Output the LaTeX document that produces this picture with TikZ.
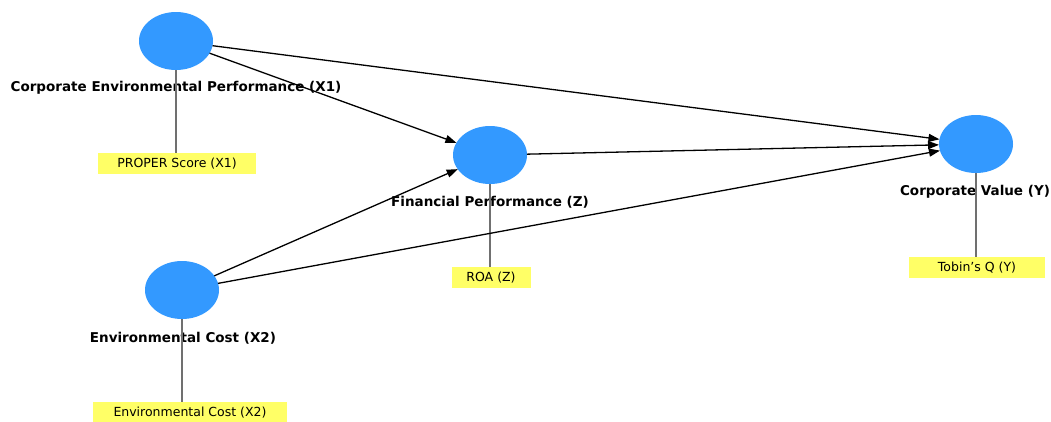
\documentclass[tikz,border=0pt]{standalone}
\usepackage{fontspec}
\setmainfont{DejaVu Sans}
\usepackage{tikz}
\usetikzlibrary{
  shapes.geometric,
  arrows.meta,
  positioning
}
\definecolor{LVBlue}{HTML}{3399FF}
\definecolor{IndYellow}{HTML}{FFFF66}
\definecolor{LinkGrey}{HTML}{707070}
\tikzset{
  % Latent variable (construct)
  lv/.style={
    ellipse, fill=LVBlue, draw=none,
    minimum width=74pt, minimum height=58pt,
    inner sep=0pt, outer sep=0pt
  },
  % Construct name under the ellipse
  lvname/.style={font=\bfseries\fontsize{13.5}{15}\selectfont, inner sep=0pt},
  % Indicator box
  ind/.style={
    rectangle, fill=IndYellow, draw=none,
    minimum height=21pt, inner sep=0pt,
    font=\fontsize{12.5}{14}\selectfont
  },
  % Path arrow
  path/.style={
    -{Triangle[length=11pt,width=8pt]},
    line width=1.3pt, color=black
  },
  % Loading line
  load/.style={line width=1.3pt, color=LinkGrey}
}

\begin{document}
\begin{tikzpicture}[x=1pt,y=-1pt]

  \useasboundingbox (0,0) rectangle (1051,421);

  % Constructs
  \node[lv] (cep) at (176,41)  {};
  \node[lv] (fp)  at (490,155) {};
  \node[lv] (cv)  at (976,144) {};
  \node[lv] (ec)  at (182,290) {};

  % Construct names
  \node[lvname] (cep-name) at (176,88)  {Corporate Environmental Performance (X1)};
  \node[lvname] (fp-name)  at (490,202) {Financial Performance (Z)};
  \node[lvname] (cv-name)  at (975,192) {Corporate Value (Y)};
  \node[lvname] (ec-name)  at (183,338) {Environmental Cost (X2)};

  % Indicators
  \node[ind, minimum width=158pt] (proper) at (177,163.5) {PROPER Score (X1)};
  \node[ind, minimum width=79pt]  (roa)    at (491,277.5) {ROA (Z)};
  \node[ind, minimum width=136pt] (tobin)  at (977,267.5) {Tobin's Q (Y)};
  \node[ind, minimum width=194pt] (envc)   at (190,412.5) {Environmental Cost (X2)};

  % Loadings
  \draw[load] (cep.south) -- (cep.south |- proper.north);
  \draw[load] (fp.south)  -- (fp.south |- roa.north);
  \draw[load] (cv.south)  -- (cv.south |- tobin.north);
  \draw[load] (ec.south)  -- (ec.south |- envc.north);

  % Structural paths
  \draw[path] (cep) -- (fp);
  \draw[path] (cep) -- (cv);
  \draw[path] (ec)  -- (fp);
  \draw[path] (ec)  -- (cv);
  \draw[path] (fp)  -- (cv);

\end{tikzpicture}
\end{document}
